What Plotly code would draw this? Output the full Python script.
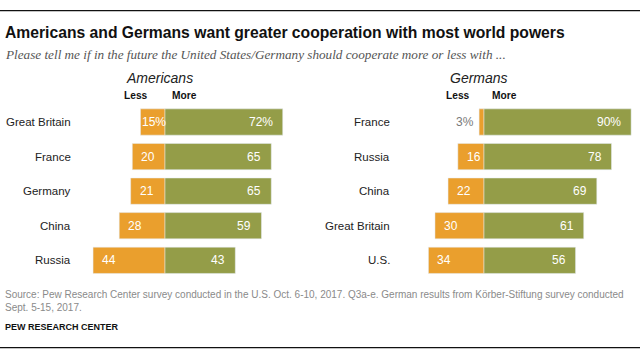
import plotly.graph_objects as go

# ---- data ----
us_countries = ["Great Britain", "France", "Germany", "China", "Russia"]
us_less = [15, 20, 21, 28, 44]
us_more = [72, 65, 65, 59, 43]

de_countries = ["France", "Russia", "China", "Great Britain", "U.S."]
de_less = [3, 16, 22, 30, 34]
de_more = [90, 78, 69, 61, 56]

title = "Americans and Germans want greater cooperation with most world powers"
subtitle = "Please tell me if in the future the United States/Germany should cooperate more or less with ..."
source = ("Source: Pew Research Center survey conducted in the U.S. Oct. 6-10, 2017. Q3a-e. German results from Körber-Stiftung survey conducted<br>"
          "Sept. 5-15, 2017.")
credit = "PEW RESEARCH CENTER"

# ---- style ----
W, H = 640, 358
ORANGE = "#EA9F2D"
GREEN = "#949D48"
SANS = "Liberation Sans, Arial, sans-serif"
SERIF = "Liberation Serif, Times New Roman, serif"

us_range = [-50, 90]
de_range = [-55, 95]
us_dom_px = [83.25, 312.15]
de_dom_px = [394.1, 639.3]
y_dom = [0.2246, 0.7075]

fig = go.Figure()

def add_panel(cats, less, more, xa, ya):
    fig.add_trace(go.Bar(y=cats, x=[-v for v in less], orientation="h", marker_color=ORANGE,
                         width=0.76, xaxis=xa, yaxis=ya, hoverinfo="skip"))
    fig.add_trace(go.Bar(y=cats, x=more, orientation="h", marker_color=GREEN,
                         width=0.76, xaxis=xa, yaxis=ya, hoverinfo="skip"))

add_panel(us_countries, us_less, us_more, "x", "y")
add_panel(de_countries, de_less, de_more, "x2", "y2")

ann = []

def panel_labels(cats, less, more, xref, yref, rng, dom_px, label_right_px):
    scale = (dom_px[1] - dom_px[0]) / (rng[1] - rng[0])
    for i, (c, l, m) in enumerate(zip(cats, less, more)):
        pct = "%" if i == 0 else ""
        ann.append(dict(text=c, x=label_right_px / W, xref="paper", y=c, yref=yref,
                        xanchor="right", yanchor="middle", showarrow=False,
                        font=dict(family=SANS, size=11.5, color="#222")))
        lt = f"{l}{pct}"
        w = len(str(l)) * 6.7 + (10.7 if pct else 0)
        L = l * scale
        if l < 10:
            ann.append(dict(text=lt, x=-l, xref=xref, y=c, yref=yref, xanchor="right",
                            xshift=-3, showarrow=False,
                            font=dict(family=SANS, size=12, color="#7a7a7a")))
        else:
            sh = max(0, min(7, L - w - 2))
            ann.append(dict(text=lt, x=-l, xref=xref, y=c, yref=yref, xanchor="left",
                            xshift=sh, showarrow=False,
                            font=dict(family=SANS, size=12, color="white")))
        ann.append(dict(text=f"{m}{pct}", x=m, xref=xref, y=c, yref=yref, xanchor="right",
                        xshift=-8, showarrow=False,
                        font=dict(family=SANS, size=12, color="white")))

panel_labels(us_countries, us_less, us_more, "x", "y", us_range, us_dom_px, 73)
panel_labels(de_countries, de_less, de_more, "x2", "y2", de_range, de_dom_px, 392)

# panel headings
for txt, xc in [("Americans", 159.7), ("Germans", 478.8)]:
    ann.append(dict(text=f"<i>{txt}</i>", x=xc / W, xref="paper", y=1 - 78 / H, yref="paper",
                    xanchor="center", yanchor="middle", showarrow=False,
                    font=dict(family=SANS, size=14, color="#222")))
for xref, lx, mx in [("x", -18, 12.2), ("x2", -16, 12.8)]:
    ann.append(dict(text="<b>Less</b>", x=lx, xref=xref, y=1 - 96 / H, yref="paper",
                    xanchor="center", yanchor="middle", showarrow=False,
                    font=dict(family=SANS, size=10.2, color="#111")))
    ann.append(dict(text="<b>More</b>", x=mx, xref=xref, y=1 - 96 / H, yref="paper",
                    xanchor="center", yanchor="middle", showarrow=False,
                    font=dict(family=SANS, size=10.2, color="#111")))

# title, subtitle, source
ann.append(dict(text=f"<b>{title}</b>", x=3 / W, xref="paper", y=1 - 32 / H, yref="paper",
                xanchor="left", yanchor="middle", showarrow=False,
                font=dict(family=SANS, size=15.7, color="#111")))
ann.append(dict(text=f"<i>{subtitle}</i>", x=3 / W, xref="paper", y=1 - 54 / H, yref="paper",
                xanchor="left", yanchor="middle", showarrow=False,
                font=dict(family=SERIF, size=13.2, color="#555")))
ann.append(dict(text=source, x=3 / W, xref="paper", y=1 - 300.7 / H, yref="paper",
                xanchor="left", yanchor="middle", showarrow=False, align="left",
                font=dict(family=SANS, size=10.0, color="#8a8a8a")))
ann.append(dict(text=f"<b>{credit}</b>", x=3 / W, xref="paper", y=1 - 326.7 / H, yref="paper",
                xanchor="left", yanchor="middle", showarrow=False,
                font=dict(family=SANS, size=9.0, color="#111")))

shapes = [
    dict(type="line", xref="paper", yref="paper", x0=0, x1=1, y0=1 - 10.7 / H, y1=1 - 10.7 / H,
         line=dict(color="#111", width=1.3)),
    dict(type="line", xref="paper", yref="paper", x0=0, x1=1, y0=1 - 347.7 / H, y1=1 - 347.7 / H,
         line=dict(color="#111", width=1.3)),
]

axis_off = dict(showgrid=False, zeroline=False, showticklabels=False, showline=False, ticks="")
fig.update_layout(
    width=W, height=H, margin=dict(l=0, r=0, t=0, b=0),
    paper_bgcolor="white", plot_bgcolor="white",
    barmode="overlay", showlegend=False,
    xaxis=dict(domain=[us_dom_px[0] / W, us_dom_px[1] / W], range=us_range, fixedrange=True, **axis_off),
    xaxis2=dict(domain=[de_dom_px[0] / W, de_dom_px[1] / W], range=de_range, anchor="y2", fixedrange=True, **axis_off),
    yaxis=dict(domain=y_dom, range=[4.5, -0.5], type="category", categoryorder="array",
               categoryarray=us_countries, fixedrange=True, **axis_off),
    yaxis2=dict(domain=y_dom, range=[4.5, -0.5], type="category", categoryorder="array",
                categoryarray=de_countries, anchor="x2", fixedrange=True, **axis_off),
    annotations=ann, shapes=shapes,
)

fig.write_html("out.html", config={"displayModeBar": False},
               post_script="document.body.style.margin='0';document.body.style.overflow='hidden';")
